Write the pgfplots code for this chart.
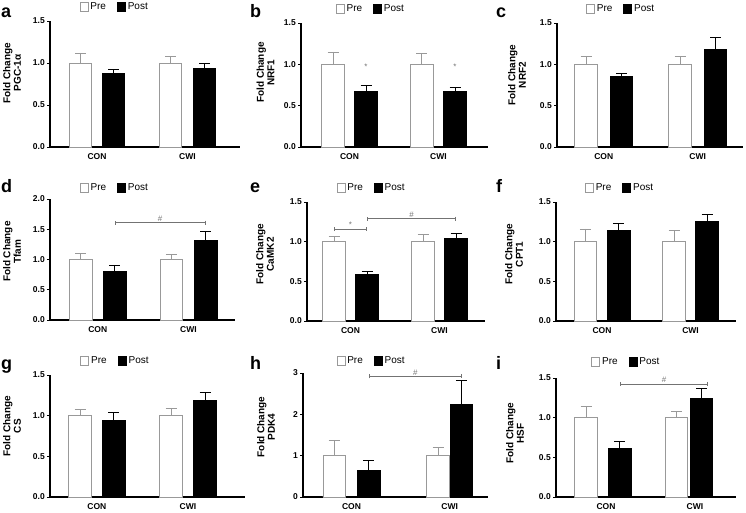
\documentclass[border=0pt]{standalone}
\usepackage{pgfplots}
\pgfplotsset{compat=1.18}
\usepackage{fontspec}
\setmainfont{Liberation Sans}
\usetikzlibrary{arrows.meta}
\definecolor{pregray}{gray}{0.6}
\definecolor{brgray}{gray}{0.45}
\tikzset{brk/.style={brgray, line width=0.6pt, {Bar[width=4pt]}-{Bar[width=4pt]}}}
\pgfplotsset{
 panel/.style={
   scale only axis, anchor=south west,
   axis lines=left, axis line style={-, line width=1.3pt, black},
   xmin=0, ymin=0, clip=false,
   ybar, bar width=22.5pt, bar shift=0pt,
   xtick style={draw=none},
   ytick style={line width=0.9pt, black},
   tick align=outside, major tick length=3pt,
   /pgf/number format/assume math mode=true,
   yticklabel style={font=\bfseries\fontsize{8.5}{9}\selectfont, inner sep=2pt,
     /pgf/number format/fixed, /pgf/number format/fixed zerofill, /pgf/number format/precision=1},
   xticklabel style={font=\bfseries\fontsize{8.5}{9}\selectfont},
   ylabel style={align=center, font=\bfseries\fontsize{10}{10.5}\selectfont},
   legend columns=2,
   legend style={draw=none, fill=none, inner sep=0pt, font=\fontsize{10}{11}\selectfont,
     anchor=west, yshift=14pt, /tikz/every even column/.append style={column sep=9pt}},
   legend image code/.code={\draw[#1] (0pt,-4.5pt) rectangle (8pt,4.5pt);},
   xticklabels={CON,CWI},
 },
 ylab/.style 2 args={ylabel style={at={(axis description cs:#1,#2)}, anchor=center}},
 pre/.style={fill=white, draw=pregray, line width=0.8pt,
   error bars/y dir=plus, error bars/y explicit,
   error bars/error mark=-,
   error bars/error bar style={pregray, line width=0.8pt},
   error bars/error mark options={rotate=90, pregray, mark size=5.5pt, line width=0.8pt}},
 post/.style={fill=black, draw=black, line width=0.8pt,
   error bars/y dir=plus, error bars/y explicit,
   error bars/error mark=-,
   error bars/error bar style={black, line width=0.8pt},
   error bars/error mark options={rotate=90, black, mark size=5.5pt, line width=0.8pt}},
}
\newcommand{\sig}[1]{{\fontsize{8}{8}\selectfont\color{brgray}#1}}
\begin{document}
\begin{tikzpicture}
\path[use as bounding box] (0,0) rectangle (746pt,512pt);
% panel letters
\foreach \l/\x/\y in {a/1/494, b/250/494, c/496/494, d/1/319, e/250/319, f/496/319, g/1/143, h/250/143, i/496/143}
  \node[anchor=base west, inner sep=0pt, font=\bfseries\fontsize{18}{19}\selectfont] at (\x pt,\y pt) {\l};

% a
\begin{axis}[panel, at={(50pt,365pt)}, width=190pt, height=126pt, xmax=190, ymax=1.5,
  ytick={0,0.5,1,1.5}, xtick={47,137.5}, ylabel={Fold Change\\PGC-1α}, ylab={-0.2}{0.587},
  legend style={at={(axis description cs:0.155,1)}}]
\addplot[pre] coordinates {(30.5,1.0) +- (0,0.12) (120.5,1.0) +- (0,0.08)};
\addplot[post] coordinates {(63.5,0.88) +- (0,0.045) (154.5,0.93) +- (0,0.06)};
\legend{Pre,Post}
\end{axis}

% b
\begin{axis}[panel, at={(301pt,365pt)}, width=187pt, height=124pt, xmax=187, ymax=1.5,
  ytick={0,0.5,1,1.5}, xtick={48.5,137.4}, ylabel={Fold Change\\NRF1}, ylab={-0.19}{0.6},
  legend style={at={(axis description cs:0.185,1)}}]
\addplot[pre] coordinates {(32,1.0) +- (0,0.15) (120.7,1.0) +- (0,0.13)};
\addplot[post] coordinates {(65,0.67) +- (0,0.07) (154,0.67) +- (0,0.055)};
\node at (axis cs:65,0.97) {\sig{*}};
\node at (axis cs:154,0.97) {\sig{*}};
\legend{Pre,Post}
\end{axis}

% c
\begin{axis}[panel, at={(557pt,365pt)}, width=186pt, height=124pt, xmax=186, ymax=1.5,
  ytick={0,0.5,1,1.5}, xtick={46.75,140.75}, ylabel={Fold Change\\NRF2}, ylab={-0.215}{0.58},
  legend style={at={(axis description cs:0.155,1)}}]
\addplot[pre] coordinates {(29,1.0) +- (0,0.10) (123,1.0) +- (0,0.09)};
\addplot[post] coordinates {(64.5,0.85) +- (0,0.045) (158.5,1.185) +- (0,0.14)};
\legend{Pre,Post}
\end{axis}

% d
\begin{axis}[panel, at={(50pt,192pt)}, width=185pt, height=121pt, xmax=185, ymax=2,
  ytick={0,0.5,1,1.5,2}, xtick={47.7,138.5}, ylabel={Fold Change\\Tfam}, ylab={-0.205}{0.565},
  legend style={at={(axis description cs:0.16,1)}, yshift=-3pt}]
\addplot[pre] coordinates {(30.7,1.0) +- (0,0.095) (121.3,1.0) +- (0,0.085)};
\addplot[post] coordinates {(64.7,0.80) +- (0,0.11) (155.8,1.315) +- (0,0.155)};
\draw[brk] (axis cs:64.7,1.61) -- (axis cs:155.8,1.61);
\node[above, inner sep=1pt] at (axis cs:110,1.61) {\sig{\#}};
\legend{Pre,Post}
\end{axis}

% e
\begin{axis}[panel, at={(307pt,191pt)}, width=178pt, height=119pt, xmax=178, ymax=1.5,
  ytick={0,0.5,1,1.5}, xtick={43.5,132.5}, ylabel={Fold Change\\CaMK2}, ylab={-0.236}{0.56},
  legend style={at={(axis description cs:0.165,1)}}]
\addplot[pre] coordinates {(27,1.0) +- (0,0.065) (116,1.0) +- (0,0.09)};
\addplot[post] coordinates {(60,0.59) +- (0,0.035) (149,1.035) +- (0,0.07)};
\draw[brk] (axis cs:27,1.158) -- (axis cs:60,1.158);
\node[above, inner sep=1pt] at (axis cs:43.5,1.158) {\sig{*}};
\draw[brk] (axis cs:60,1.29) -- (axis cs:149,1.29);
\node[above, inner sep=1pt] at (axis cs:104.5,1.29) {\sig{\#}};
\legend{Pre,Post}
\end{axis}

% f
\begin{axis}[panel, at={(556pt,191pt)}, width=180pt, height=119pt, xmax=180, ymax=1.5,
  ytick={0,0.5,1,1.5}, xtick={46,134.5}, ylabel={Fold Change\\CPT1}, ylab={-0.233}{0.56},
  legend style={at={(axis description cs:0.16,1)}}]
\addplot[pre] coordinates {(29.3,1.0) +- (0,0.16) (118,1.0) +- (0,0.145)};
\addplot[post] coordinates {(62.8,1.14) +- (0,0.095) (151,1.255) +- (0,0.093)};
\legend{Pre,Post}
\end{axis}

% g
\begin{axis}[panel, at={(50pt,15pt)}, width=195pt, height=122pt, xmax=195, ymax=1.5,
  ytick={0,0.5,1,1.5}, xtick={46.9,138}, ylabel={Fold Change\\CS}, ylab={-0.195}{0.58},
  legend style={at={(axis description cs:0.155,1)}}]
\addplot[pre] coordinates {(30,1.0) +- (0,0.075) (121,1.0) +- (0,0.09)};
\addplot[post] coordinates {(63.8,0.945) +- (0,0.095) (155,1.19) +- (0,0.10)};
\legend{Pre,Post}
\end{axis}

% h
\begin{axis}[panel, at={(303pt,15pt)}, width=185pt, height=124pt, xmax=185, ymax=3,
  ytick={0,1,2,3}, yticklabels={0,1,2,3}, xtick={48.5,146.7}, ylabel={Fold Change\\PDK4}, ylab={-0.2}{0.565},
  legend style={at={(axis description cs:0.18,1)}, yshift=-2pt}]
\addplot[pre] coordinates {(31.2,1.0) +- (0,0.37) (135,1.0) +- (0,0.2)};
\addplot[post] coordinates {(65.7,0.635) +- (0,0.24) (158.3,2.24) +- (0,0.58)};
\draw[brk] (axis cs:66,2.92) -- (axis cs:158.7,2.92);
\node[above, inner sep=1pt] at (axis cs:112.3,2.92) {\sig{\#}};
\legend{Pre,Post}
\end{axis}

% i
\begin{axis}[panel, at={(556pt,15pt)}, width=180pt, height=119pt, xmax=180, ymax=1.5,
  ytick={0,0.5,1,1.5}, xtick={50,139}, ylabel={Fold Change\\HSF}, ylab={-0.228}{0.535},
  legend style={at={(axis description cs:0.195,1)}, yshift=2pt}]
\addplot[pre] coordinates {(30,1.0) +- (0,0.14) (120.5,1.0) +- (0,0.075)};
\addplot[post] coordinates {(63.7,0.614) +- (0,0.088) (145.5,1.245) +- (0,0.12)};
\draw[brk] (axis cs:64,1.425) -- (axis cs:152,1.425);
\node[above, inner sep=1pt] at (axis cs:108,1.425) {\sig{\#}};
\legend{Pre,Post}
\end{axis}
\end{tikzpicture}
\end{document}
